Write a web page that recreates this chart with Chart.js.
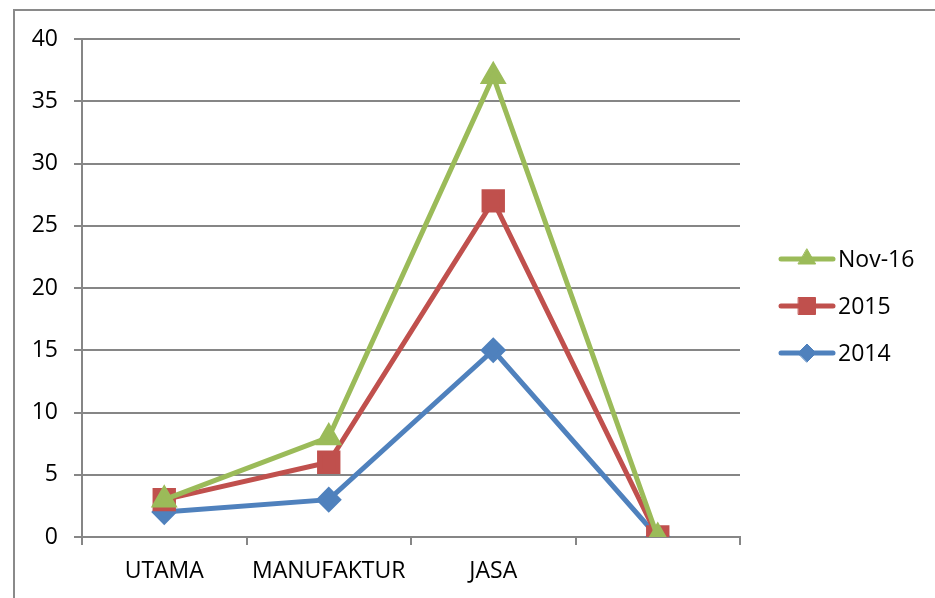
<!DOCTYPE html>
<html>
<head>
<meta charset="utf-8">
<script src="https://cdn.jsdelivr.net/npm/chart.js@4/dist/chart.umd.min.js"></script>
<style>
  html, body { margin: 0; padding: 0; background: #ffffff; overflow: hidden; }
  #wrap { position: relative; width: 935px; height: 598px; }
  #frame { position: absolute; left: 13px; top: 9px; width: 940px; height: 600px;
           border-left: 2px solid #8a8a8a; border-top: 2px solid #8a8a8a; }
  canvas { position: absolute; left: 0; top: 0; }
</style>
</head>
<body>
<div id="wrap">
  <div id="frame"></div>
  <canvas id="c" width="935" height="598"></canvas>
</div>
<script>
const categories = ["UTAMA", "MANUFAKTUR", "JASA", ""];
const seriesNames = ["Nov-16", "2015", "2014"];
const nov16 = [3, 8, 37, 0];
const y2015 = [3, 6, 27, 0];
const y2014 = [2, 3, 15, 0];
const yTicks = [0, 5, 10, 15, 20, 25, 30, 35, 40];

const FONT = "'Open Sans', sans-serif";
const GRID = '#868686';

const legendPlugin = {
  id: 'sideLegend',
  afterDraw(chart) {
    const ctx = chart.ctx;
    const x0 = 781, x1 = 833, startY = 259, step = 47;
    chart.data.datasets.forEach((ds, i) => {
      const y = startY + i * step;
      ctx.save();
      ctx.strokeStyle = ds.borderColor;
      ctx.lineWidth = 5;
      ctx.lineCap = 'round';
      ctx.beginPath();
      ctx.moveTo(x0, y);
      ctx.lineTo(x1, y);
      ctx.stroke();
      ctx.fillStyle = ds.pointBackgroundColor;
      ctx.strokeStyle = ds.pointBorderColor;
      ctx.lineWidth = 1;
      Chart.helpers.drawPoint(ctx, {
        pointStyle: ds.pointStyle,
        radius: ds.legendRadius,
        borderWidth: 1,
        rotation: 0
      }, (x0 + x1) / 2, y);
      ctx.fillStyle = '#000000';
      ctx.font = '23px ' + FONT;
      ctx.textBaseline = 'middle';
      ctx.textAlign = 'left';
      ctx.fillText(ds.label, 838, y + 1);
      ctx.restore();
    });
  }
};

new Chart(document.getElementById('c'), {
  type: 'line',
  data: {
    labels: categories,
    datasets: [
      { label: seriesNames[0], data: nov16, borderColor: '#9BBB59', backgroundColor: '#9BBB59',
        pointBackgroundColor: '#9BBB59', pointBorderColor: '#9BBB59',
        pointStyle: 'triangle', pointRadius: 10.5, legendRadius: 10, borderWidth: 5 },
      { label: seriesNames[1], data: y2015, borderColor: '#C0504D', backgroundColor: '#C0504D',
        pointBackgroundColor: '#C0504D', pointBorderColor: '#C0504D',
        pointStyle: 'rect', pointRadius: 13, legendRadius: 12, borderWidth: 5 },
      { label: seriesNames[2], data: y2014, borderColor: '#4F81BD', backgroundColor: '#4F81BD',
        pointBackgroundColor: '#4F81BD', pointBorderColor: '#4F81BD',
        pointStyle: 'rectRot', pointRadius: 9.5, legendRadius: 9, borderWidth: 5 }
    ]
  },
  options: {
    responsive: false,
    animation: false,
    layout: { padding: { left: 0, top: 39, right: 195, bottom: 0 } },
    elements: { line: { tension: 0 }, point: { borderWidth: 1, hoverRadius: 11 } },
    plugins: { legend: { display: false }, tooltip: { enabled: false } },
    scales: {
      x: {
        offset: true,
        grid: { offset: true, drawOnChartArea: false, drawTicks: true, tickLength: 8, color: GRID, lineWidth: 2 },
        border: { display: true, color: GRID, width: 2 },
        ticks: { color: '#000000', font: { family: FONT, size: 23 }, padding: 13, maxRotation: 0, autoSkip: false },
        afterFit(scale) { scale.height = 61; }
      },
      y: {
        min: 0, max: 40,
        afterBuildTicks(scale) { scale.ticks = yTicks.map(v => ({ value: v })); },
        grid: { color: GRID, lineWidth: 2, tickLength: 8 },
        border: { display: true, color: GRID, width: 2 },
        ticks: { color: '#000000', font: { family: FONT, size: 23 }, padding: 16 },
        afterFit(scale) { scale.width = 82; }
      }
    }
  },
  plugins: [legendPlugin]
});
</script>
</body>
</html>
